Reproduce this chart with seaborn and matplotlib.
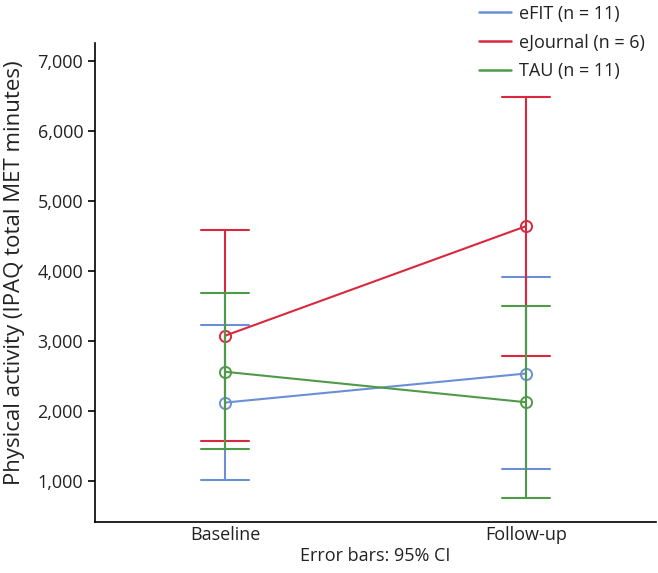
import numpy as np
import pandas as pd
import matplotlib
matplotlib.use("Agg")
import matplotlib.pyplot as plt
from matplotlib.lines import Line2D
from matplotlib.ticker import FuncFormatter
import seaborn as sns

# values (means and 95% CI bounds)
timepoints = ["Baseline", "Follow-up"]
groups = ["eFIT (n = 11)", "eJournal (n = 6)", "TAU (n = 11)"]
efit_mean = [2120, 2535]
efit_lo = [1015, 1165]
efit_hi = [3230, 3910]
ejournal_mean = [3075, 4640]
ejournal_lo = [1575, 2790]
ejournal_hi = [4590, 6490]
tau_mean = [2560, 2125]
tau_lo = [1460, 755]
tau_hi = [3685, 3500]

colors = ["#6b8fd6", "#d9283e", "#4f9a48"]

rows = []
for g, m, lo, hi in zip(groups,
                        [efit_mean, ejournal_mean, tau_mean],
                        [efit_lo, ejournal_lo, tau_lo],
                        [efit_hi, ejournal_hi, tau_hi]):
    for i, t in enumerate(timepoints):
        for v in (lo[i], m[i], hi[i]):
            rows.append({"time": t, "group": g, "value": v})
df = pd.DataFrame(rows)

sns.set_style("ticks")
plt.rcParams["font.family"] = ["Open Sans", "DejaVu Sans"]
plt.rcParams["text.color"] = "#222222"
plt.rcParams["xtick.color"] = "#222222"
plt.rcParams["ytick.color"] = "black"
plt.rcParams["axes.labelcolor"] = "#222222"

fig = plt.figure(figsize=(6.58, 5.73), dpi=100)
ax = fig.add_axes([0.1444, 0.089, 0.8526, 0.836])

# median of (lo, mean, hi) = mean, full percentile range = CI
sns.pointplot(data=df, x="time", y="value", hue="group", order=timepoints,
              hue_order=groups, palette=colors, estimator="median",
              errorbar=("pi", 100), capsize=0.16, dodge=False,
              markers="o", linewidth=1.5, err_kws={"linewidth": 1.5},
              markersize=8, legend=False, ax=ax)

for line in ax.lines:
    line.set_markerfacecolor("none")
    line.set_markeredgewidth(1.4)

ax.set_xlim(-0.432, 1.432)
ax.set_ylim(414, 7257)
ax.set_yticks([1000, 2000, 3000, 4000, 5000, 6000, 7000])
ax.yaxis.set_major_formatter(FuncFormatter(lambda v, p: f"{int(v):,}"))
ax.tick_params(axis="y", labelsize=13, length=5, width=1.2, color="black",
               labelcolor="#222222")
ax.tick_params(axis="x", labelsize=13, length=0, pad=3)
for s in ["top", "right"]:
    ax.spines[s].set_visible(False)
for s in ["left", "bottom"]:
    ax.spines[s].set_linewidth(1.2)
    ax.spines[s].set_color("black")

ax.set_xlabel("Error bars: 95% CI", fontsize=13, labelpad=2)
ax.set_ylabel("Physical activity (IPAQ total MET minutes)", fontsize=16, labelpad=6)
ax.yaxis.set_label_coords(-0.125, 0.52)

handles = [Line2D([0], [0], color=c, lw=1.8) for c in colors]
fig.legend(handles, groups, loc="upper left", bbox_to_anchor=(0.703, 1.02),
           frameon=False, fontsize=13, handlelength=1.8, handletextpad=0.45,
           labelspacing=0.6)

fig.savefig("out.png", dpi=100)
